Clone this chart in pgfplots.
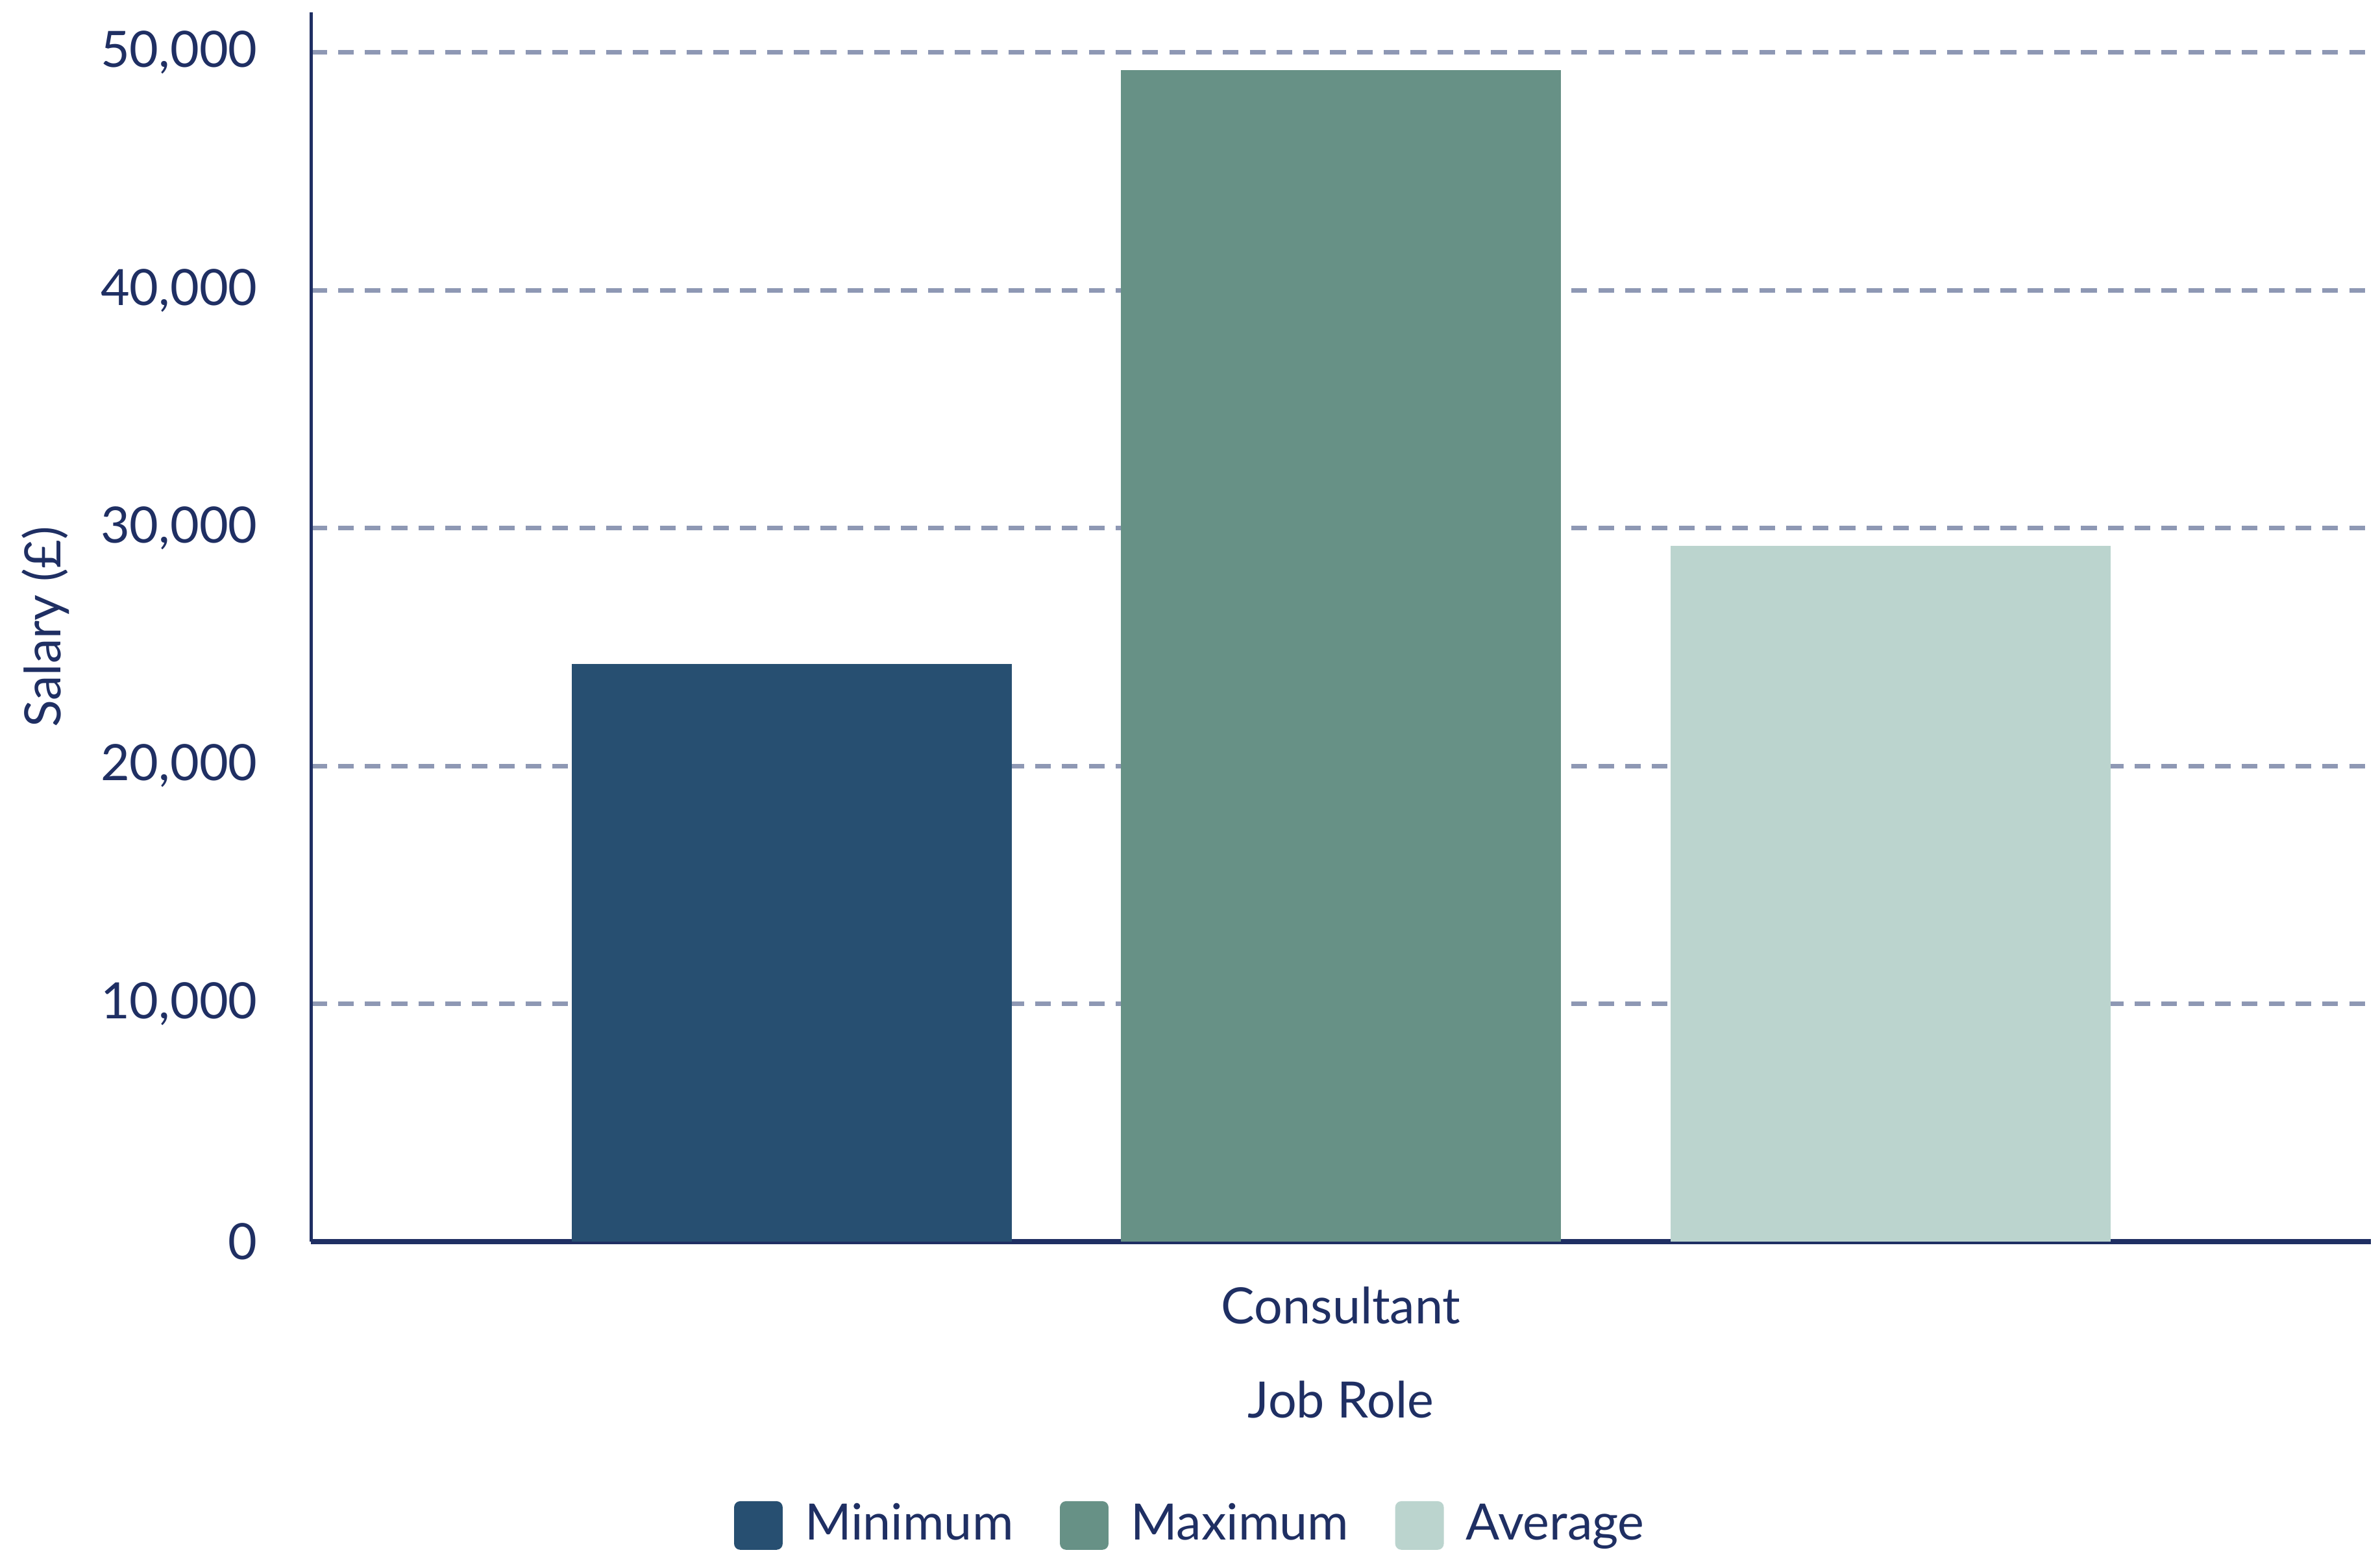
\documentclass[border=0pt]{standalone}
\usepackage{pgfplots}
\pgfplotsset{compat=1.18}
\usepackage{fontspec}
\setmainfont{Lato}
\usetikzlibrary{calc}
\definecolor{minc}{HTML}{274F71}
\definecolor{maxc}{HTML}{679186}
\definecolor{avgc}{HTML}{BBD4CE}
\definecolor{txt}{HTML}{1F2F63}
\definecolor{gridc}{HTML}{8E98B4}
\newcommand{\fs}{\fontsize{9.9pt}{12pt}\selectfont}
\begin{document}
\begin{tikzpicture}
\begin{axis}[
  scale only axis=true,
  width=407.1pt, height=243pt,
  ybar, bar width=87pt,
  xmin=-1, xmax=1,
  ymin=0, ymax=51700,
  xtick={0}, xticklabels={Consultant},
  ytick={0,10000,20000,30000,40000,50000},
  scaled y ticks=false,
  /pgf/number format/.cd, fixed, 1000 sep={,}, assume math mode=true, /pgfplots/.cd,
  axis x line*=bottom, axis y line*=left,
  x axis line style={-, draw=txt, line width=1.1pt},
  y axis line style={-, draw=txt, line width=0.7pt},
  major tick length=0pt,
  ymajorgrids=true,
  major grid style={draw=gridc, line width=0.9pt, dash pattern=on 3.1pt off 2.2pt},
  yticklabel style={font=\fs, text=txt, anchor=east, xshift=-7.1pt},
  xticklabel style={font=\fs, text=txt, anchor=base, yshift=-16.2pt},
  xlabel={Job Role},
  ylabel={Salary (£)},
  xlabel style={font=\fs, text=txt, at={(axis description cs:0.5,0)}, anchor=base, yshift=-34.8pt},
  ylabel style={font=\fs, text=txt, at={(axis description cs:0,0.5)}, anchor=center, yshift=52.5pt},
  legend columns=3,
  legend style={draw=none, fill=none, font=\fs, text=txt,
    at={(axis description cs:0.5,0)}, anchor=center, xshift=-29pt, yshift=-56.1pt,
    column sep=0pt,
    /tikz/every odd column/.append style={column sep=2.4pt},
    /tikz/every even column/.append style={column sep=7.2pt}},
  legend image code/.code={\fill[#1,/tikz/.cd, rounded corners=1.2pt] (0pt,-4.8pt) rectangle (9.6pt,4.8pt);},
  clip=false,
]
\addplot[ybar, fill=minc, draw=none, bar shift=-108.6pt] coordinates {(0,24300)};
\addplot[ybar, fill=maxc, draw=none, bar shift=0pt] coordinates {(0,49250)};
\addplot[ybar, fill=avgc, draw=none, bar shift=108.6pt] coordinates {(0,29250)};
\legend{Minimum, Maximum, Average}
\coordinate (SW) at (rel axis cs:0,0);
\end{axis}
\pgfresetboundingbox
\path ($(SW)+(-61.5pt,-62.7pt)$) rectangle ($(SW)+(408.9pt,245.4pt)$);
\end{tikzpicture}
\end{document}
